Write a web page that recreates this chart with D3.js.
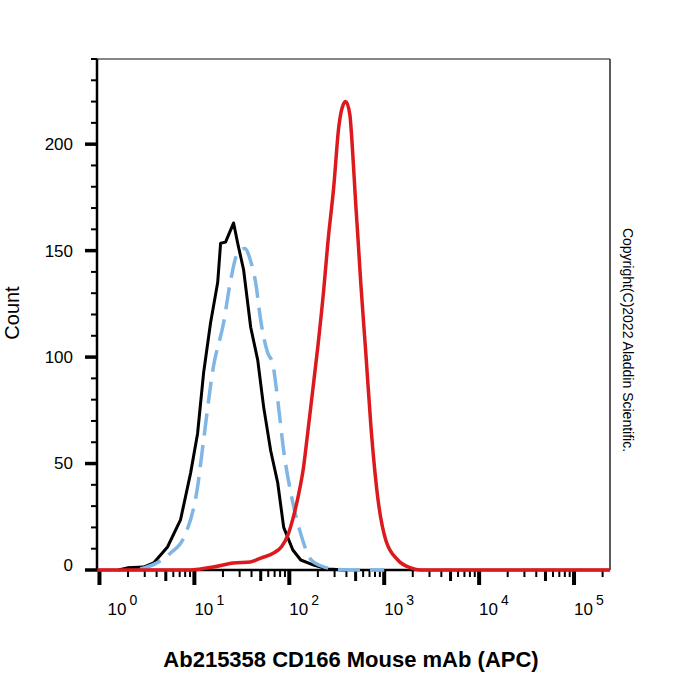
<!doctype html>
<html lang="en">
  <head>
    <meta charset="utf-8">
    <title>CD166 histogram</title>
    <style>
      body { margin: 0; background: #fff; }
      svg { display: block; font-family: Arial, "Liberation Sans", sans-serif; }
    </style>
  </head>
  <body>
    <script src="https://cdn.jsdelivr.net/npm/d3@7"></script>
    <script>
      // intensity (APC) / count pairs
      var blackX = [1.58, 1.97, 2.91, 3.72, 5.21, 7.14, 9.12, 10.8, 12.5, 14.8, 17.6, 18.9, 21.3, 25.9, 28.6, 33.0, 39.2, 46.5, 53.7, 63.7, 75.5, 87.3, 109, 132, 181, 254, 394];
      var blackY = [0, 1, 1.4, 3.3, 10.8, 23.5, 45.5, 64, 92.5, 116, 135, 153.5, 154, 163, 153.5, 141, 114, 98.6, 76.5, 56, 41, 20, 9.4, 4.7, 2.3, 0.5, 0];

      var blueX = [2.69, 3.89, 5.62, 7.69, 10.8, 12.5, 15.8, 20.3, 24.1, 28.6, 33.9, 39.2, 44.2, 50.1, 59.2, 66.8, 75.5, 87.3, 104, 132, 168, 214, 324, 562, 1000];
      var blueY = [0.5, 3, 8, 15, 39, 61, 95, 116, 136, 149, 151, 145, 135, 117, 102, 97, 80, 56, 36, 17, 5, 2, 0.3, 0, 0];

      var redX = [0.95, 9.12, 11.6, 15.8, 25.7, 38.9, 50.1, 68.4, 83.2, 97.7, 112, 126, 141, 155, 174, 200, 231, 254, 294, 332, 366, 394, 434, 467, 501, 527, 566, 640, 723, 855, 1040, 1390, 1905, 2432, 240000];
      var redY = [0, 0, 0.5, 1.4, 3.3, 3.8, 5.6, 8, 11, 17, 26, 36, 48, 63, 82, 105, 132, 153, 180, 208, 218, 220, 214, 195, 172, 157, 135, 102, 68, 34, 14, 4.7, 1, 0, 0];

      var yMajor = [0, 50, 100, 150, 200];
      var decades = [0, 1, 2, 3, 4, 5];

      var margin = {top: 59, right: 90, bottom: 130, left: 97},
          width = 700 - margin.left - margin.right,
          height = 700 - margin.top - margin.bottom;

      var svg = d3.select("body")
        .append("svg")
        .attr("width", 700)
        .attr("height", 700);

      var chart = svg.append("g")
        .attr("transform", "translate(" + margin.left + "," + margin.top + ")");

      var x = d3.scaleLog()
        .domain([0.942, 239300])
        .range([0, width]);

      var y = d3.scaleLinear()
        .domain([0, 240])
        .range([height, 0]);

      // frame: thin top/right, heavier axes
      chart.append("line").attr("x1", 0).attr("x2", width).attr("y1", 0).attr("y2", 0)
        .attr("stroke", "#111").attr("stroke-width", 1.2);
      chart.append("line").attr("x1", width).attr("x2", width).attr("y1", 0).attr("y2", height)
        .attr("stroke", "#333").attr("stroke-width", 1.6);

      // y ticks
      var yMinor = d3.range(0, 241, 10).filter(function(d){ return d % 50 !== 0; });
      chart.selectAll(".ymin")
        .data(yMinor)
        .enter()
        .append("line")
        .attr("x1", -6).attr("x2", 0)
        .attr("y1", function(d){ return y(d); })
        .attr("y2", function(d){ return y(d); })
        .attr("stroke", "#000").attr("stroke-width", 2);

      chart.selectAll(".ymaj")
        .data(yMajor)
        .enter()
        .append("line")
        .attr("x1", -12).attr("x2", 0)
        .attr("y1", function(d){ return y(d); })
        .attr("y2", function(d){ return y(d); })
        .attr("stroke", "#000").attr("stroke-width", 3.5);

      chart.selectAll(".ylab")
        .data(yMajor)
        .enter()
        .append("text")
        .attr("x", -24)
        .attr("y", function(d){ return y(d) + (d === 0 ? -5 : 0); })
        .attr("dy", "0.35em")
        .attr("text-anchor", "end")
        .attr("font-size", 17)
        .text(function(d){ return d; });

      // x ticks: decades, 5s and the rest
      var xTicks = [];
      decades.forEach(function(e){
        d3.range(1, 10).forEach(function(m){
          var v = m * Math.pow(10, e);
          if (v <= x.domain()[1]) xTicks.push({v: v, m: m});
        });
      });

      chart.selectAll(".xt")
        .data(xTicks)
        .enter()
        .append("line")
        .attr("x1", function(d){ return x(d.v); })
        .attr("x2", function(d){ return x(d.v); })
        .attr("y1", height)
        .attr("y2", function(d){ return height + (d.m === 1 ? 15 : d.m === 5 ? 11 : 7); })
        .attr("stroke", "#000")
        .attr("stroke-width", function(d){ return d.m === 1 ? 4 : d.m === 5 ? 3 : 2; });

      var xLab = chart.selectAll(".xl")
        .data(decades)
        .enter()
        .append("g")
        .attr("transform", function(d){ return "translate(" + (x(Math.pow(10, d)) + (d === 0 ? 8 : 0)) + "," + (height + 45) + ")"; });
      xLab.append("text").attr("font-size", 17).text("10");
      xLab.append("text").attr("x", 22).attr("y", -10).attr("font-size", 14)
        .text(function(d){ return d; });

      // axis lines
      chart.append("line").attr("x1", 0).attr("x2", 0).attr("y1", 0).attr("y2", height + 1)
        .attr("stroke", "#000").attr("stroke-width", 2.5);
      chart.append("line").attr("x1", 0).attr("x2", width).attr("y1", height).attr("y2", height)
        .attr("stroke", "#000").attr("stroke-width", 2.5);

      var line = function(xs, ys, curve){
        return d3.line()
          .x(function(d, i){ return x(xs[i]); })
          .y(function(d){ return y(d); })
          .curve(curve)(ys);
      };

      chart.append("path")
        .attr("d", line(blackX, blackY, d3.curveLinear))
        .attr("fill", "none").attr("stroke", "#000").attr("stroke-width", 3)
        .attr("stroke-linejoin", "round");

      chart.append("path")
        .attr("d", line(blueX, blueY, d3.curveMonotoneX))
        .attr("fill", "none").attr("stroke", "#7fb6e6").attr("stroke-width", 3.5)
        .attr("stroke-dasharray", "22,10");

      chart.append("path")
        .attr("d", line(redX, redY, d3.curveMonotoneX))
        .attr("fill", "none").attr("stroke", "#dc1a1e").attr("stroke-width", 3.5)
        .attr("stroke-linejoin", "round");

      // titles
      svg.append("text")
        .attr("transform", "translate(19,313) rotate(-90)")
        .attr("text-anchor", "middle")
        .attr("font-size", 20)
        .text("Count");

      svg.append("text")
        .attr("x", 351).attr("y", 667)
        .attr("text-anchor", "middle")
        .attr("font-size", 22).attr("font-weight", "bold")
        .text("Ab215358 CD166 Mouse mAb (APC)");

      svg.append("text")
        .attr("transform", "translate(623,340) rotate(90)")
        .attr("text-anchor", "middle")
        .attr("font-size", 14)
        .text("Copyright(C)2022 Aladdin Scientific.");
    </script>
  </body>
</html>
